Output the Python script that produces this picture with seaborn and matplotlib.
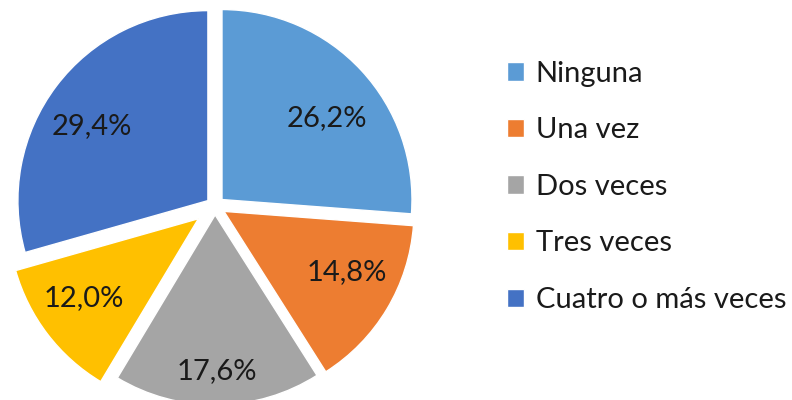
import numpy as np
import matplotlib
matplotlib.use("Agg")
import matplotlib.pyplot as plt
import seaborn as sns

categories = ["Ninguna", "Una vez", "Dos veces", "Tres veces", "Cuatro o más veces"]
values = [26.2, 14.8, 17.6, 12.0, 29.4]
colors = ["#5B9BD5", "#ED7D31", "#A5A5A5", "#FFC000", "#4472C4"]
explode = [0.05, 0.055, 0.047, 0.11, 0.047]
# label placement: distance from wedge tip (in radii) and angle tweak (deg)
label_dist = [0.70, 0.72, 0.82, 0.735, 0.725]
label_turn = [-5.2, 4.4, 0.0, -2.8, 4.4]

sns.set_theme(style="white")
plt.rcParams["font.family"] = ["Lato", "DejaVu Sans"]

fig = plt.figure(figsize=(7.92, 4.0), dpi=100)
ax = fig.add_axes([0.0076, -0.0375, 0.5278, 1.045])

wedges, _ = ax.pie(values, colors=colors, startangle=90, counterclock=False,
                   explode=explode, radius=1.0)

for w, v, d, t in zip(wedges, values, label_dist, label_turn):
    mid = np.deg2rad((w.theta1 + w.theta2) / 2 + t)
    cx, cy = w.center
    ax.text(cx + d * np.cos(mid), cy + d * np.sin(mid),
            f"{v:.1f}%".replace(".", ","), ha="center", va="center",
            fontsize=21, color="#1a1a1a")

ax.set_xlim(-1.1, 1.1)
ax.set_ylim(-1.1, 1.1)
ax.set_aspect("equal")
ax.axis("off")

fig.legend(wedges, categories, loc="center left", bbox_to_anchor=(0.607, 0.533),
           frameon=False, fontsize=21, handlelength=0.6, handleheight=0.6,
           handletextpad=0.39, labelspacing=1.05, labelcolor="#1a1a1a")

fig.savefig("out.png", dpi=100)
